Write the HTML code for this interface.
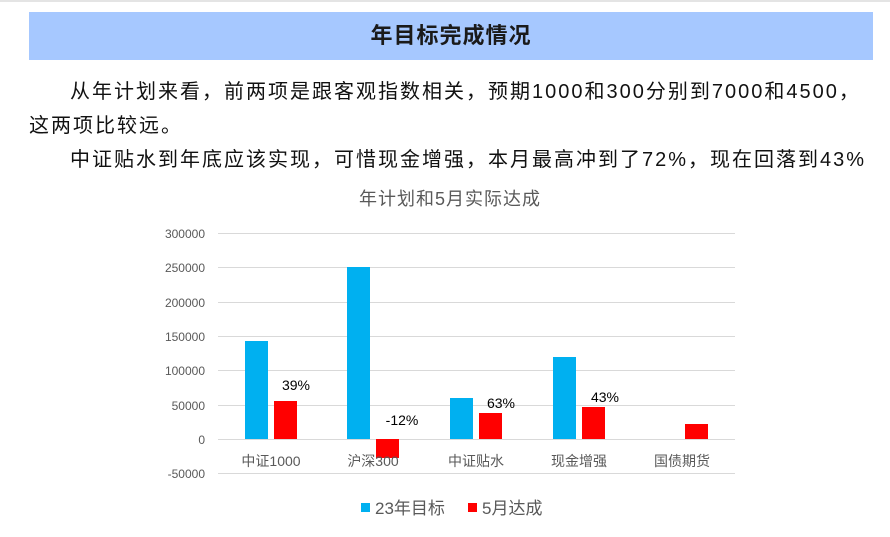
<!DOCTYPE html>
<html><head><meta charset="utf-8"><style>
body{margin:0;width:890px;height:537px;background:#fff;overflow:hidden;position:relative;font-family:"Liberation Sans","Noto Sans CJK SC",sans-serif}
.topline{position:absolute;left:0;top:0;width:890px;height:2px;background:#e4e4e4}
.hdr{position:absolute;left:29px;top:12px;width:844px;height:48px;background:#a6c8ff;text-align:center;line-height:48px;font-size:22px;letter-spacing:1px;font-weight:bold;color:#1a1a1a}
.p{position:absolute;font-size:20px;color:#111;white-space:nowrap;line-height:24px;letter-spacing:2px}
</style></head><body>
<div class="topline"></div>
<div class="hdr">年目标完成情况</div>
<div class="p" style="left:70px;top:80px">从年计划来看，前两项是跟客观指数相关，预期1000和300分别到7000和4500，</div>
<div class="p" style="left:29px;top:114px">这两项比较远。</div>
<div class="p" style="left:70px;top:148px">中证贴水到年底应该实现，可惜现金增强，本月最高冲到了72%，现在回落到43%</div>
<svg style="position:absolute;left:0;top:0" width="890" height="537" font-family="Liberation Sans, Noto Sans CJK SC, sans-serif">
<text x="450" y="205" text-anchor="middle" font-size="18" letter-spacing="1" fill="#595959">年计划和5月实际达成</text>
<g stroke="#d9d9d9" stroke-width="1">
<line x1="218" x2="735" y1="233.5" y2="233.5"/><line x1="218" x2="735" y1="267.5" y2="267.5"/>
<line x1="218" x2="735" y1="302.5" y2="302.5"/><line x1="218" x2="735" y1="336.5" y2="336.5"/>
<line x1="218" x2="735" y1="370.5" y2="370.5"/><line x1="218" x2="735" y1="405.5" y2="405.5"/>
<line x1="218" x2="735" y1="439.5" y2="439.5"/><line x1="218" x2="735" y1="473.5" y2="473.5"/>
</g>
<g font-size="12" fill="#595959" text-anchor="end">
<text x="205" y="238">300000</text><text x="205" y="272">250000</text><text x="205" y="307">200000</text>
<text x="205" y="341">150000</text><text x="205" y="375">100000</text><text x="205" y="410">50000</text>
<text x="205" y="444">0</text><text x="205" y="478">-50000</text>
</g>
<g fill="#00b0f0">
<rect x="245" y="341" width="23" height="98"/><rect x="347" y="267" width="23" height="172"/>
<rect x="450" y="398" width="23" height="41"/><rect x="553" y="357" width="23" height="82"/>
</g>
<g fill="#ff0000">
<rect x="274" y="401" width="23" height="38"/><rect x="376" y="439" width="23" height="19"/>
<rect x="479" y="413" width="23" height="26"/><rect x="582" y="407" width="23" height="32"/>
<rect x="685" y="424" width="23" height="15"/>
</g>
<g font-size="14" fill="#000" text-anchor="middle">
<text x="296" y="390">39%</text><text x="402" y="425">-12%</text><text x="501" y="408">63%</text><text x="605" y="402">43%</text>
</g>
<g font-size="14" fill="#595959" text-anchor="middle">
<text x="271" y="466">中证1000</text><text x="373" y="466">沪深300</text><text x="476" y="466">中证贴水</text>
<text x="579" y="466">现金增强</text><text x="682" y="466">国债期货</text>
</g>
<rect x="361" y="503" width="9" height="9" fill="#00b0f0"/>
<text x="375" y="514" font-size="17" fill="#595959">23年目标</text>
<rect x="468" y="503" width="9" height="9" fill="#ff0000"/>
<text x="482" y="514" font-size="17" fill="#595959">5月达成</text>
</svg>
</body></html>
